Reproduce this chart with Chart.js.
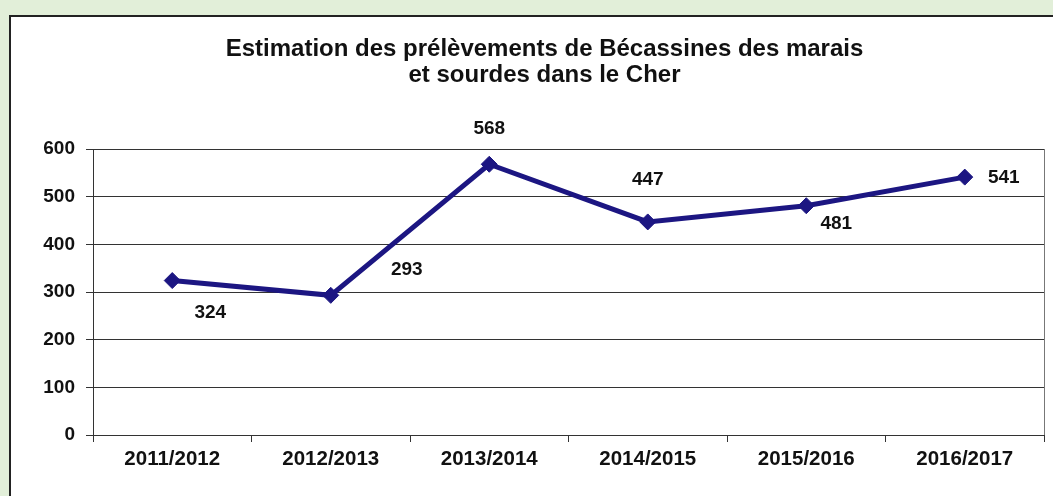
<!DOCTYPE html>
<html lang="fr">
<head>
<meta charset="utf-8">
<title>Bécassines - Cher</title>
<script src="https://cdn.jsdelivr.net/npm/chart.js@4.4.1/dist/chart.umd.min.js"></script>
<style>
  html, body { margin: 0; padding: 0; }
  body { width: 1053px; height: 496px; background: #e2efd9; position: relative; overflow: hidden; }
  .frame {
    position: absolute; left: 9px; top: 15px; right: -10px; bottom: -10px;
    background: #fff; border-left: 2px solid #222; border-top: 2px solid #222;
  }
  #chart { position: absolute; left: 0; top: 0; }
</style>
</head>
<body>
<div class="frame"></div>
<canvas id="chart" width="1053" height="496"></canvas>
<script>
// saisons de chasse et prélèvements estimés
const seasons = ['2011/2012', '2012/2013', '2013/2014', '2014/2015', '2015/2016', '2016/2017'];
const harvest = [324, 293, 568, 447, 481, 541];
const yTicks = [0, 100, 200, 300, 400, 500, 600];

// décalage de chaque étiquette par rapport à son point (px)
const labelShift = [[38, 32], [76, -26], [0, -35], [0, -42], [30, 18], [39, 1]];

const navy = '#1c1682';
const font = 'Arial, "Liberation Sans", Helvetica, sans-serif';

const pointLabels = {
  id: 'pointLabels',
  afterDatasetsDraw(chart) {
    const ctx = chart.ctx;
    const meta = chart.getDatasetMeta(0);
    ctx.save();
    ctx.font = 'bold 19px ' + font;
    ctx.fillStyle = '#111';
    ctx.textAlign = 'center';
    ctx.textBaseline = 'middle';
    meta.data.forEach((pt, i) => {
      const [dx, dy] = labelShift[i];
      ctx.fillText(String(harvest[i]), pt.x + dx, pt.y + dy);
    });
    ctx.restore();
  }
};

// bord droit de la zone de tracé
const rightEdge = {
  id: 'rightEdge',
  beforeDatasetsDraw(chart) {
    const { ctx, chartArea } = chart;
    ctx.save();
    ctx.strokeStyle = '#777';
    ctx.lineWidth = 1;
    ctx.beginPath();
    ctx.moveTo(chartArea.right + 0.5, chartArea.top);
    ctx.lineTo(chartArea.right + 0.5, chartArea.bottom);
    ctx.stroke();
    ctx.restore();
  }
};

new Chart(document.getElementById('chart'), {
  type: 'line',
  data: {
    labels: seasons,
    datasets: [{
      data: harvest,
      borderColor: navy,
      backgroundColor: navy,
      borderWidth: 5,
      pointStyle: 'rectRot',
      pointRadius: 8,
      pointBorderWidth: 1,
      pointBackgroundColor: navy,
      pointBorderColor: navy,
      tension: 0,
      fill: false
    }]
  },
  options: {
    responsive: false,
    animation: false,
    devicePixelRatio: 1,
    layout: { padding: { top: 0, left: 42, right: 6, bottom: 0 } },
    plugins: {
      legend: { display: false },
      tooltip: { enabled: false },
      title: {
        display: true,
        text: ['Estimation des prélèvements de Bécassines des marais', 'et sourdes dans le Cher'],
        color: '#111',
        font: { family: font, size: 24, weight: 'bold', lineHeight: 26 / 24 },
        padding: { top: 36, bottom: 61 }
      }
    },
    scales: {
      x: {
        offset: true,
        grid: { offset: true, drawOnChartArea: false, tickLength: 7, color: '#333' },
        border: { color: '#333' },
        ticks: { color: '#111', padding: 5, font: { family: font, size: 20.5, weight: 'bold' } },
        afterFit(scale) { scale.height = 61; }
      },
      y: {
        min: 0,
        max: 600,
        afterBuildTicks(scale) { scale.ticks = yTicks.map(v => ({ value: v })); },
        grid: { color: '#333', tickLength: 7 },
        border: { color: '#333' },
        ticks: { color: '#111', padding: 11, font: { family: font, size: 19, weight: 'bold' } },
        afterFit(scale) { scale.width = 51; }
      }
    }
  },
  plugins: [rightEdge, pointLabels]
});
</script>
</body>
</html>
